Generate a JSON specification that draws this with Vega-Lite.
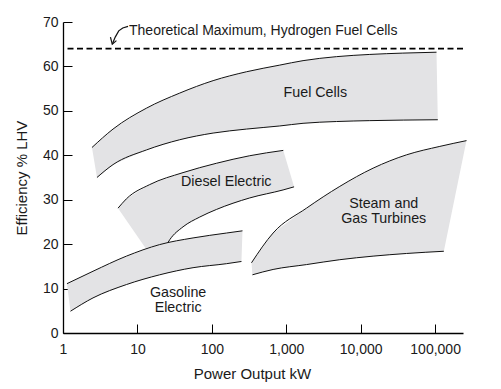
{
  "$schema": "https://vega.github.io/schema/vega-lite/v6.json",
  "width": 400,
  "height": 311,
  "autosize": {"type": "none"},
  "padding": {"left": 63, "top": 22, "right": 38, "bottom": 56},
  "background": "white",
  "config": {"view": {"stroke": null}, "font": "Liberation Sans"},
  "datasets": {
    "bands": [
      {"b": "F", "e": "t", "o": 1, "x": 2.45, "y": 41.75},
      {"b": "F", "e": "t", "o": 2, "x": 4.7, "y": 45.9},
      {"b": "F", "e": "t", "o": 3, "x": 13.2, "y": 50.6},
      {"b": "F", "e": "t", "o": 4, "x": 37, "y": 54.0},
      {"b": "F", "e": "t", "o": 5, "x": 104, "y": 56.8},
      {"b": "F", "e": "t", "o": 6, "x": 292, "y": 58.8},
      {"b": "F", "e": "t", "o": 7, "x": 818, "y": 60.3},
      {"b": "F", "e": "t", "o": 8, "x": 1680, "y": 61.3},
      {"b": "F", "e": "t", "o": 9, "x": 4730, "y": 62.2},
      {"b": "F", "e": "t", "o": 10, "x": 13250, "y": 62.7},
      {"b": "F", "e": "t", "o": 11, "x": 36800, "y": 63.0},
      {"b": "F", "e": "t", "o": 12, "x": 104400, "y": 63.2},
      {"b": "F", "e": "b", "o": 13, "x": 108700, "y": 48.0},
      {"b": "F", "e": "b", "o": 14, "x": 13250, "y": 47.8},
      {"b": "F", "e": "b", "o": 15, "x": 4730, "y": 47.6},
      {"b": "F", "e": "b", "o": 16, "x": 1680, "y": 47.2},
      {"b": "F", "e": "b", "o": 17, "x": 818, "y": 46.6},
      {"b": "F", "e": "b", "o": 18, "x": 292, "y": 45.9},
      {"b": "F", "e": "b", "o": 19, "x": 104, "y": 45.0},
      {"b": "F", "e": "b", "o": 20, "x": 37, "y": 43.5},
      {"b": "F", "e": "b", "o": 21, "x": 13.2, "y": 41.2},
      {"b": "F", "e": "b", "o": 22, "x": 4.7, "y": 37.9},
      {"b": "F", "e": "b", "o": 23, "x": 2.86, "y": 35.0},
      {"b": "D", "e": "t", "o": 1, "x": 5.49, "y": 28.1},
      {"b": "D", "e": "t", "o": 2, "x": 7.11, "y": 30.2},
      {"b": "D", "e": "t", "o": 3, "x": 14.6, "y": 33.4},
      {"b": "D", "e": "t", "o": 4, "x": 41, "y": 36.1},
      {"b": "D", "e": "t", "o": 5, "x": 115, "y": 38.2},
      {"b": "D", "e": "t", "o": 6, "x": 323, "y": 39.9},
      {"b": "D", "e": "t", "o": 7, "x": 912, "y": 41.1},
      {"b": "D", "e": "b", "o": 8, "x": 1274, "y": 32.9},
      {"b": "D", "e": "b", "o": 9, "x": 906, "y": 32.2},
      {"b": "D", "e": "b", "o": 10, "x": 323, "y": 30.4},
      {"b": "D", "e": "b", "o": 11, "x": 115, "y": 27.8},
      {"b": "D", "e": "b", "o": 12, "x": 68.8, "y": 26.1},
      {"b": "D", "e": "b", "o": 13, "x": 41, "y": 23.9},
      {"b": "D", "e": "b", "o": 14, "x": 27.2, "y": 21.0},
      {"b": "D", "e": "b", "o": 15, "x": 25.8, "y": 20.4},
      {"b": "D", "e": "h", "o": 16, "x": 12.9, "y": 19.1},
      {"b": "G", "e": "t", "o": 1, "x": 1.13, "y": 11.1},
      {"b": "G", "e": "t", "o": 2, "x": 2.53, "y": 13.9},
      {"b": "G", "e": "t", "o": 3, "x": 7.11, "y": 17.3},
      {"b": "G", "e": "t", "o": 4, "x": 19.9, "y": 19.9},
      {"b": "G", "e": "t", "o": 5, "x": 55.9, "y": 21.4},
      {"b": "G", "e": "t", "o": 6, "x": 157, "y": 22.5},
      {"b": "G", "e": "t", "o": 7, "x": 258, "y": 23.0},
      {"b": "G", "e": "b", "o": 8, "x": 250, "y": 16.1},
      {"b": "G", "e": "b", "o": 9, "x": 157, "y": 15.6},
      {"b": "G", "e": "b", "o": 10, "x": 55.9, "y": 14.7},
      {"b": "G", "e": "b", "o": 11, "x": 19.9, "y": 13.1},
      {"b": "G", "e": "b", "o": 12, "x": 7.11, "y": 10.9},
      {"b": "G", "e": "b", "o": 13, "x": 2.53, "y": 7.9},
      {"b": "G", "e": "b", "o": 14, "x": 1.26, "y": 4.9},
      {"b": "S", "e": "t", "o": 1, "x": 341, "y": 15.8},
      {"b": "S", "e": "t", "o": 2, "x": 665, "y": 22.5},
      {"b": "S", "e": "t", "o": 3, "x": 1870, "y": 28.1},
      {"b": "S", "e": "t", "o": 4, "x": 5240, "y": 33.0},
      {"b": "S", "e": "t", "o": 5, "x": 14680, "y": 37.1},
      {"b": "S", "e": "t", "o": 6, "x": 41300, "y": 40.1},
      {"b": "S", "e": "t", "o": 7, "x": 115700, "y": 42.0},
      {"b": "S", "e": "t", "o": 8, "x": 264000, "y": 43.3},
      {"b": "S", "e": "b", "o": 9, "x": 131000, "y": 18.4},
      {"b": "S", "e": "b", "o": 10, "x": 41300, "y": 17.9},
      {"b": "S", "e": "b", "o": 11, "x": 14680, "y": 17.3},
      {"b": "S", "e": "b", "o": 12, "x": 5240, "y": 16.5},
      {"b": "S", "e": "b", "o": 13, "x": 1870, "y": 15.4},
      {"b": "S", "e": "b", "o": 14, "x": 665, "y": 14.3},
      {"b": "S", "e": "b", "o": 15, "x": 351, "y": 13.1}
    ],
    "labels": [
      {"label": "Fuel Cells", "x": 2455, "y": 54.0},
      {"label": "Diesel Electric", "x": 156, "y": 33.9},
      {"label": "Steam and\nGas Turbines", "x": 20400, "y": 29.1},
      {"label": "Gasoline\nElectric", "x": 35.2, "y": 8.9}
    ],
    "arrow": [
      {"p": "c", "o": 1, "x": 7.48, "y": 69.0},
      {"p": "c", "o": 2, "x": 6.35, "y": 68.65},
      {"p": "c", "o": 3, "x": 5.61, "y": 68.0},
      {"p": "c", "o": 4, "x": 5.03, "y": 66.6},
      {"p": "c", "o": 5, "x": 4.59, "y": 65.0},
      {"p": "h", "o": 1, "x": 4.34, "y": 66.6},
      {"p": "h", "o": 2, "x": 4.59, "y": 65.0},
      {"p": "h", "o": 3, "x": 5.22, "y": 65.8}
    ]
  },
  "layer": [
    {
      "data": {"name": "bands"},
      "mark": {"type": "line", "fill": "#e3e3e5", "stroke": "#e3e3e5", "strokeWidth": 0, "interpolate": "linear"},
      "encoding": {
        "x": {
          "field": "x", "type": "quantitative",
          "scale": {"type": "log", "domain": [1, 237000], "nice": false},
          "axis": {
            "title": "Power Output kW",
            "values": [1, 10, 100, 1000, 10000, 100000],
            "format": ",",
            "grid": false,
            "tickSize": -9,
            "labelPadding": 18,
            "labelFontSize": 14,
            "labelColor": "#1a1a1a",
            "labelFlush": false,
            "domainColor": "#000000",
            "domainWidth": 1.3,
            "tickColor": "#000000",
            "tickWidth": 1,
            "titleFontSize": 15,
            "titleFontWeight": "normal",
            "titleColor": "#1a1a1a",
            "titleX": 189,
            "titleY": 40,
            "titleBaseline": "middle"
          }
        },
        "y": {
          "field": "y", "type": "quantitative",
          "scale": {"domain": [0, 70], "nice": false},
          "axis": {
            "title": "Efficiency % LHV",
            "values": [0, 10, 20, 30, 40, 50, 60, 70],
            "grid": false,
            "tickSize": -9,
            "labelPadding": 14,
            "labelFontSize": 14,
            "labelColor": "#1a1a1a",
            "labelFlush": false,
            "domainColor": "#000000",
            "domainWidth": 1.3,
            "tickColor": "#000000",
            "tickWidth": 1,
            "titleFontSize": 15,
            "titleFontWeight": "normal",
            "titleColor": "#1a1a1a",
            "titleX": -42,
            "titleY": 155.5,
            "titleBaseline": "middle"
          }
        },
        "detail": {"field": "b"},
        "order": {"field": "o"}
      }
    },
    {
      "data": {"name": "bands"},
      "transform": [{"filter": "datum.e !== 'h'"}],
      "mark": {"type": "line", "color": "#111111", "strokeWidth": 1, "interpolate": "monotone"},
      "encoding": {
        "x": {"field": "x", "type": "quantitative"},
        "y": {"field": "y", "type": "quantitative"},
        "detail": [{"field": "b"}, {"field": "e"}],
        "order": {"field": "x"}
      }
    },
    {
      "data": {"values": [{}]},
      "mark": {"type": "rule", "color": "#000000", "strokeWidth": 1.8, "strokeDash": [6, 3.5]},
      "encoding": {"y": {"datum": 64, "type": "quantitative"}}
    },
    {
      "data": {"name": "arrow"},
      "mark": {"type": "line", "color": "#111111", "strokeWidth": 1.2},
      "encoding": {
        "x": {"field": "x", "type": "quantitative"},
        "y": {"field": "y", "type": "quantitative"},
        "detail": {"field": "p"},
        "order": {"field": "o"}
      }
    },
    {
      "data": {"values": [{"label": "Theoretical Maximum, Hydrogen Fuel Cells", "x": 7.71, "y": 68.0}]},
      "mark": {"type": "text", "align": "left", "baseline": "middle", "fontSize": 14, "color": "#1a1a1a"},
      "encoding": {
        "x": {"field": "x", "type": "quantitative"},
        "y": {"field": "y", "type": "quantitative"},
        "text": {"field": "label"}
      }
    },
    {
      "data": {"name": "labels"},
      "mark": {"type": "text", "align": "center", "baseline": "middle", "fontSize": 14.3, "lineBreak": "\n", "lineHeight": 15, "color": "#1a1a1a"},
      "encoding": {
        "x": {"field": "x", "type": "quantitative"},
        "y": {"field": "y", "type": "quantitative"},
        "text": {"field": "label"}
      }
    }
  ]
}
